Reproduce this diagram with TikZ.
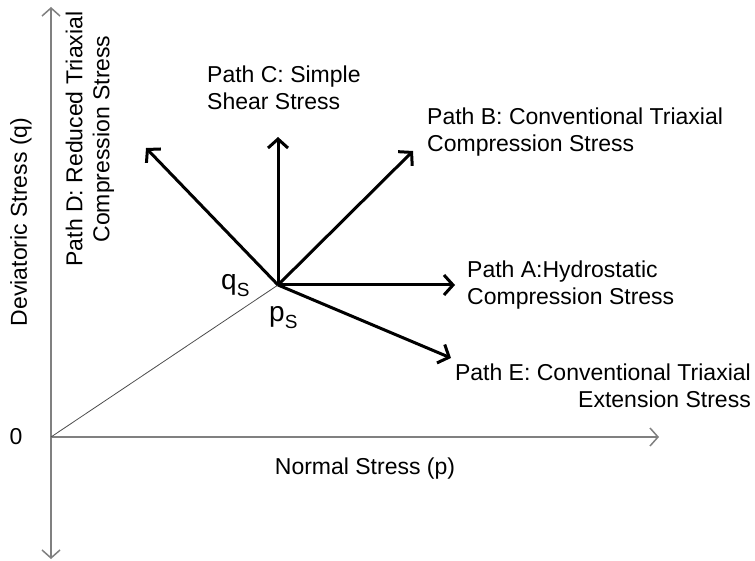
\documentclass[tikz,border=0pt]{standalone}
\usepackage{fontspec}
\setmainfont{Liberation Sans}
\usetikzlibrary{arrows.meta}
\begin{document}
\begin{tikzpicture}[x=1pt,y=-1pt,
    axis/.style={draw=gray, line width=1.5pt, -{Straight Barb[length=8pt,width=18pt]}},
    patharrow/.style={draw=black, line width=3pt, -{Straight Barb[length=9pt,width=20pt]}},
    lbl/.style={font=\fontsize{23}{27}\selectfont, inner sep=0pt},
    ptlbl/.style={font=\fontsize{28}{28}\selectfont, inner sep=0pt, anchor=base west}]
    \useasboundingbox (0,0) rectangle (755,561);
    % axes
    \coordinate (O) at (51,437);
    \coordinate (qtop) at (51,7);
    \coordinate (qbot) at (51,559);
    \coordinate (pend) at (659,437);
    \draw[axis] (O) -- (qtop);
    \draw[axis] (O) -- (qbot);
    \draw[axis] (O) -- (pend);
    \node[lbl] (zero) at (16,437) {0};
    \node[lbl] (plabel) at (365,469) {Normal Stress (p)};
    \node[lbl, rotate=90] (qlabel) at (21,222) {Deviatoric Stress (q)};
    % stress point
    \coordinate (S) at (278,285);
    \draw[black!70, line width=0.8pt] (O) -- (S);
    \node[ptlbl] (qs) at (221,290) {q\raisebox{-7pt}{\fontsize{19}{19}\selectfont S}};
    \node[ptlbl] (ps) at (269,322) {p\raisebox{-7pt}{\fontsize{19}{19}\selectfont S}};
    % paths
    \coordinate (tA) at (455,285);
    \coordinate (tB) at (413,151);
    \coordinate (tC) at (278,137);
    \coordinate (tD) at (146,148);
    \coordinate (tE) at (451,358);
    \foreach \t in {tA,tB,tC,tD,tE}
        \draw[patharrow] (S) -- (\t);
    \node[lbl, anchor=west, align=left] (pathA) at (467,285) {Path A:Hydrostatic\\Compression Stress};
    \node[lbl, anchor=west, align=left] (pathB) at (427,132) {Path B: Conventional Triaxial\\Compression Stress};
    \node[lbl, anchor=west, align=left] (pathC) at (207,88) {Path C: Simple\\Shear Stress};
    \node[lbl, rotate=90, align=center] (pathD) at (90,139) {Path D: Reduced Triaxial\\Compression Stress};
    \node[lbl, anchor=east, align=right] (pathE) at (751,386) {Path E: Conventional Triaxial\\Extension Stress};
\end{tikzpicture}
\end{document}
